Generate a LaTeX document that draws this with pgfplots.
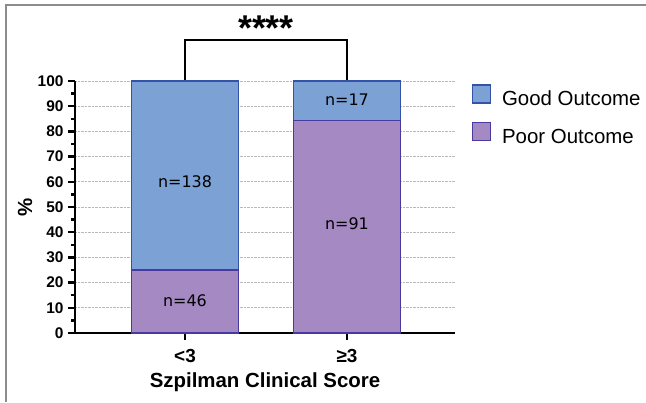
\documentclass[border=0pt]{standalone}
\usepackage{fontspec}
\setmainfont{Liberation Sans}
\newfontfamily\nfont{DejaVu Sans}
\usepackage{pgfplots}
\pgfplotsset{compat=1.18}
\definecolor{goodfill}{RGB}{123,161,213}
\definecolor{goodedge}{RGB}{52,82,168}
\definecolor{poorfill}{RGB}{165,137,194}
\definecolor{pooredge}{RGB}{72,58,160}
\definecolor{framegray}{RGB}{140,140,140}
\begin{document}
\begin{tikzpicture}[x=1bp,y=1bp]
\useasboundingbox (0,0) rectangle (646,402);
\draw[framegray, line width=2bp] (6,0) -- (6,397) -- (646,397);
\begin{axis}[
  at={(75bp,69bp)}, anchor=south west, scale only axis,
  width=380bp, height=252bp,
  xmin=-0.679, xmax=1.667, ymin=0, ymax=100,
  clip=false,
  ybar stacked, bar width=107bp,
  axis x line*=bottom, axis y line*=left,
  axis line style={line width=2.8bp, black},
  xtick={0,1}, xticklabels={<3,≥3},
  ytick={0,10,...,100}, minor y tick num=1,
  tick align=outside,
  major tick length=7bp, minor tick length=4bp,
  every tick/.style={black, line width=2.4bp},
  /pgf/number format/assume math mode=true,
  yticklabel style={font=\bfseries\fontsize{15.5}{15.5}\selectfont, xshift=-1bp},
  xticklabel style={font=\bfseries\fontsize{19}{19}\selectfont, yshift=-6bp},
  ymajorgrids, grid style={densely dotted, gray!55, line width=0.7bp},
  every axis y label/.style={at={(axis description cs:-0.1316,0.5)}, rotate=90, anchor=center},
  every axis x label/.style={at={(axis description cs:0.5,-0.194)}, anchor=center},
  ylabel={\%}, xlabel={Szpilman Clinical Score},
  label style={font=\bfseries\fontsize{20.5}{20.5}\selectfont},
  reverse legend,
  legend cell align=left,
  legend style={at={(1.036,0.995)}, anchor=north west, draw=none, fill=none,
    font=\fontsize{20.5}{20.5}\selectfont, row sep=12.5bp, column sep=11bp,
    nodes={inner sep=0pt, text height=15bp, text depth=4bp}},
  legend image code/.code={\draw[#1, line width=1.2bp] (0bp,-3bp) rectangle (18bp,15bp);},
]
\addplot[fill=poorfill, draw=pooredge, line width=1.2bp] coordinates {(0,25.0) (1,84.26)};
\addlegendentry{Poor Outcome}
\addplot[fill=goodfill, draw=goodedge, line width=1.2bp] coordinates {(0,75.0) (1,15.74)};
\addlegendentry{Good Outcome}
\draw[line width=2.8bp] (axis cs:0,100) -- (axis cs:0,116.3) -- (axis cs:1,116.3) -- (axis cs:1,100);
\node[font=\bfseries\fontsize{36}{36}\selectfont, anchor=center] at (axis cs:0.5,121) {****};
\coordinate (na) at (axis cs:0,60);
\coordinate (nb) at (axis cs:0,13);
\coordinate (nc) at (axis cs:1,43.5);
\coordinate (nd) at (axis cs:1,92.5);
\end{axis}
\node[font=\nfont\fontsize{16}{16}\selectfont] at (na) {n=138};
\node[font=\nfont\fontsize{16}{16}\selectfont] at (nb) {n=46};
\node[font=\nfont\fontsize{16}{16}\selectfont] at (nc) {n=91};
\node[font=\nfont\fontsize{16}{16}\selectfont] at (nd) {n=17};
\end{tikzpicture}
\end{document}
